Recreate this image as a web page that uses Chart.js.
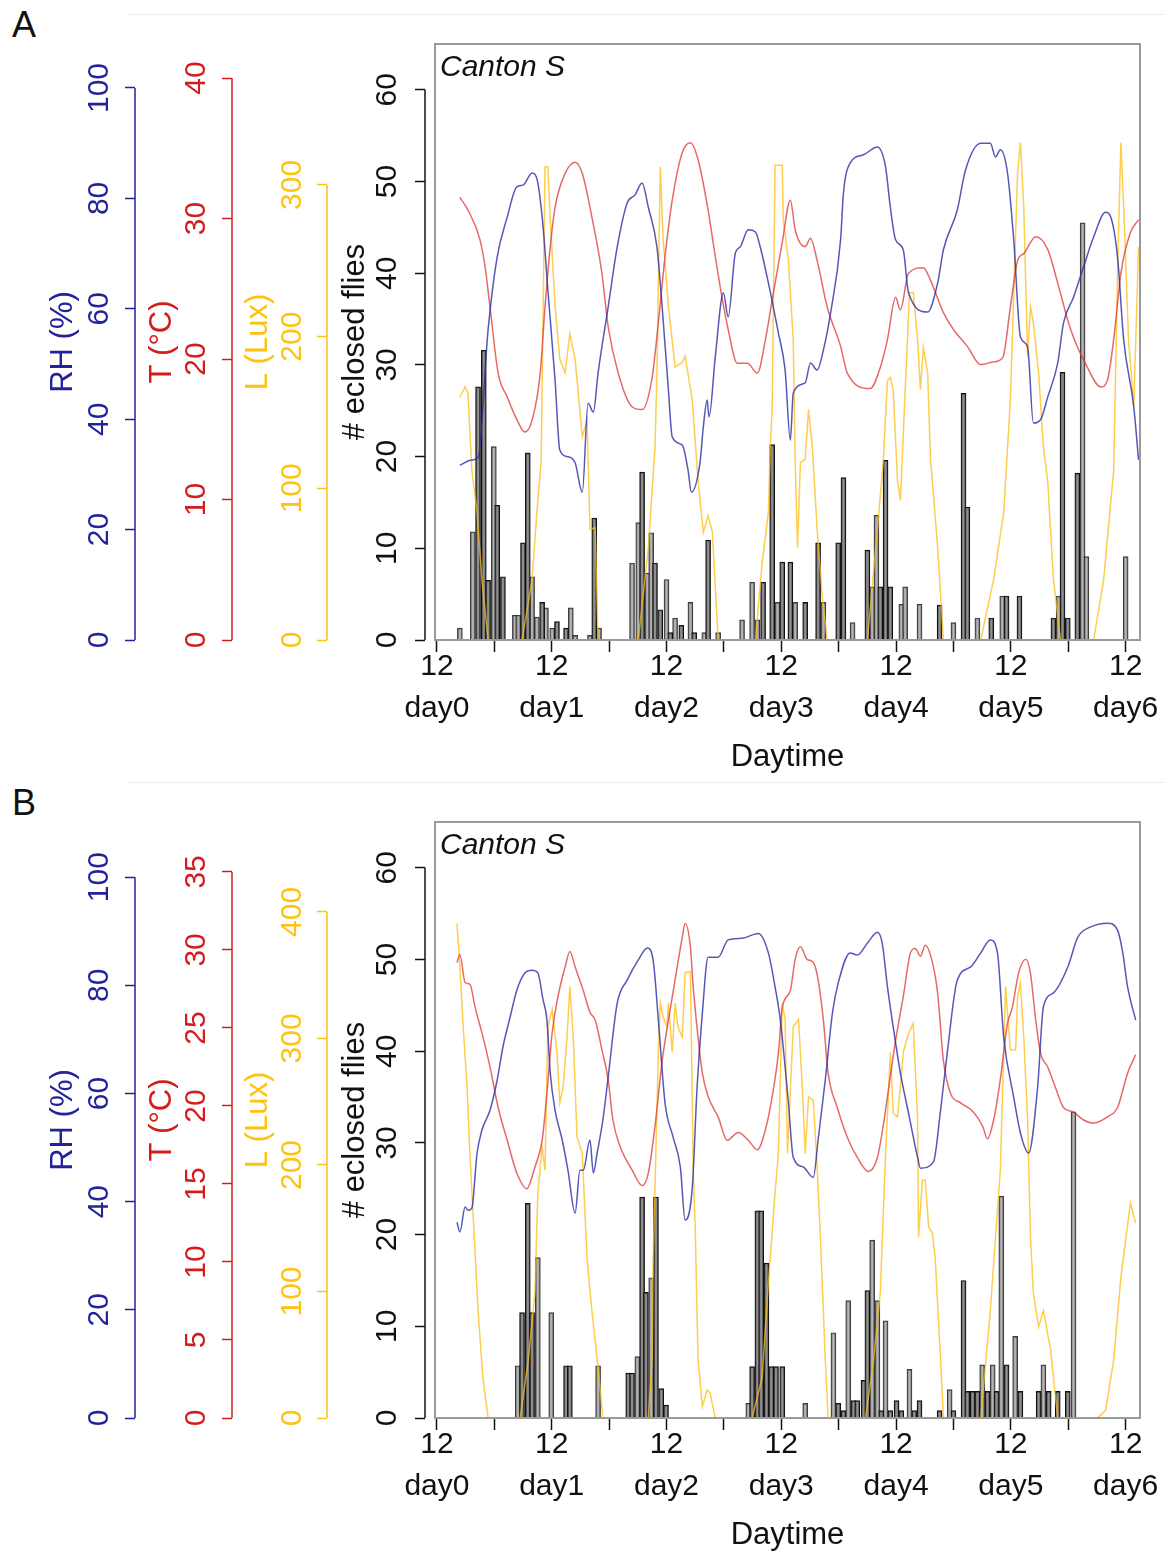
<!DOCTYPE html>
<html>
<head>
<meta charset="utf-8">
<script src="https://cdn.jsdelivr.net/npm/chart.js@4.4.1/dist/chart.umd.min.js"></script>
<style>
  body { margin: 0; background: #fff; width: 1165px; height: 1553px; position: relative; overflow: hidden;
         font-family: "Liberation Sans", Arial, sans-serif; }
  canvas { position: absolute; left: 0; }
  .tag { position: absolute; left: 12px; font-size: 36px; line-height: 36px; color: #111; }
  .rule { position: absolute; left: 128px; width: 1037px; height: 1px; background: #eeeeee; }
</style>
</head>
<body>
<div class="rule" style="top:14px"></div>
<div class="rule" style="top:782px"></div>
<div class="tag" style="top:7px">A</div>
<div class="tag" style="top:785px">B</div>
<canvas id="panelA" width="1165" height="778" style="top:0"></canvas>
<canvas id="panelB" width="1165" height="778" style="top:778px"></canvas>
<script>
// x is hours after 12:00 on day0
const xTickValues = [0, 12, 24, 36, 48, 60, 72, 84, 96, 108, 120, 132, 144];
const dayLabels = ['day0', 'day1', 'day2', 'day3', 'day4', 'day5', 'day6'];
const countTicks = [0, 10, 20, 30, 40, 50, 60];
const rhTicks = [0, 20, 40, 60, 80, 100];
const tTicksA = [0, 10, 20, 30, 40];
const tTicksB = [0, 5, 10, 15, 20, 25, 30, 35];
const lTicksA = [0, 100, 200, 300];
const lTicksB = [0, 100, 200, 300, 400];

// ---- panel A ----
const rhHoursA = [4.8,7.3,8.6,10.7,12.6,14.7,16.7,18.0,19.9,21.1,
  22.2,23.2,24.7,25.7,27.4,28.9,30.4,31.6,32.7,33.7,
  35.8,37.7,39.8,41.4,42.9,44.2,46.0,47.1,48.4,49.2,
  51.3,52.5,53.2,55.0,55.7,56.5,56.9,58.2,59.9,60.9,
  62.4,63.4,65.1,66.6,67.6,69.3,71.4,72.8,73.9,74.5,
  77.0,78.1,79.5,80.8,82.3,84.4,85.0,86.4,89.2,92.1,
  93.8,94.8,95.9,97.5,98.6,102.6,104.7,105.9,108.8,110.5,
  113.7,115.7,116.8,117.8,119.3,120.6,122.0,123.5,124.7,126.2,
  127.7,129.8,131.0,133.1,135.2,137.3,139.8,140.9,142.3,143.6,145.7,146.7];
const rhA = [31.7,32.6,33.0,56.2,69.4,76.6,82.1,82.4,84.6,82.8,
  74.8,63.4,47.1,34.4,33.2,32.1,26.8,42.9,41.3,48.4,
  60.3,71.2,79.2,80.6,82.8,78.4,71.2,60.3,45.3,36.8,
  35.3,30.8,26.8,32.1,38.6,43.5,40.4,51.3,62.9,58.5,
  70.1,71.2,74.3,73.9,71.2,64.7,55.6,48.9,36.2,44.7,
  46.6,50.2,48.9,52.5,59.2,72.5,81.0,86.4,87.9,89.3,
  85.7,78.4,72.5,70.7,62.9,59.4,64.7,70.7,77.9,85.1,
  90.0,90.0,87.5,88.8,84.6,72.5,54.9,53.1,39.3,39.9,
  44.0,50.2,57.4,62.1,67.6,73.0,77.5,76.6,69.4,54.3,42.2,32.6];

const tHoursA = [4.8,6.5,9.0,10.1,11.1,12.8,14.7,16.7,18.4,20.1,
  21.6,22.6,23.7,24.7,26.8,28.9,30.4,32.4,34.5,35.8,
  37.9,40.8,42.9,45.0,46.3,47.7,49.2,51.3,53.0,54.6,
  56.7,58.2,59.7,60.9,62.8,64.9,67.0,68.7,70.1,72.2,
  73.9,74.9,77.0,78.1,79.5,81.6,84.4,85.8,90.6,92.7,
  94.2,95.9,96.9,98.6,101.7,103.2,105.9,108.0,110.9,113.7,
  116.4,118.3,119.9,121.4,122.7,125.2,127.7,129.8,132.5,136.0,
  138.8,140.2,141.5,143.0,145.0,146.7];
const tA = [31.5,30.6,28.5,26.5,23.7,19.0,17.3,15.7,14.8,15.9,
  19.0,23.7,28.0,30.8,33.2,34.0,33.2,30.1,26.1,22.3,
  19.0,16.6,16.4,18.7,22.6,27.3,31.3,34.7,35.4,34.2,
  30.6,27.3,24.2,22.1,19.7,19.7,19.0,21.4,24.2,28.3,
  31.3,29.2,28.0,28.6,27.0,23.7,20.9,19.0,17.9,19.4,
  21.4,24.4,23.5,26.1,26.5,25.6,23.3,22.1,20.9,19.6,
  19.8,20.1,23.7,27.0,27.5,28.7,27.8,25.4,22.1,19.4,
  18.0,18.5,21.4,26.1,29.0,29.9];

const lHoursA = [4.8,5.9,6.5,7.3,8.4,9.4,10.7,17.8,19.9,20.9,
  21.8,22.6,23.2,23.7,24.7,25.7,26.8,27.8,28.9,30.4,
  31.4,32.0,33.1,33.7,42.1,44.2,45.6,46.0,46.7,47.3,
  48.4,49.8,51.3,51.9,53.4,54.6,55.7,56.7,57.6,58.8,
  66.6,68.0,69.3,69.7,70.1,70.7,72.2,72.4,73.5,74.5,
  74.9,75.4,76.0,77.0,77.7,78.5,79.5,80.6,81.6,90.0,
  92.1,93.3,94.2,94.8,95.4,96.3,96.9,98.0,98.8,99.6,
  100.5,101.1,101.7,102.6,103.2,104.7,105.9,113.7,116.4,118.5,
  119.9,121.4,122.0,122.7,123.5,124.1,124.7,125.8,126.8,127.7,
  128.9,130.4,137.3,139.4,141.5,142.3,143.0,143.6,144.6,145.7,
  146.7];
const lA = [160,167,163,112,84,40,0,0,40,84,
  119,312,312,277,220,185,176,202,185,134,
  145,73,74,0,0,61,127,176,312,264,
  220,180,183,187,158,105,71,82,71,0,
  0,51,84,127,154,313,313,277,250,198,
  119,61,117,119,152,127,73,28,0,0,
  73,117,171,173,165,105,92,171,229,229,
  198,165,193,176,119,61,0,0,40,84,
  158,308,328,285,187,220,209,176,127,105,
  40,0,0,40,112,242,328,285,198,154,
  259];

const darkHoursA = [8.6,9.8,10.7,12.6,13.8,18.0,19.0,22.0,25.1,27.0,
  32.9,42.9,45.6,46.7,48.8,51.1,53.8,56.7,68.2,70.1,
  72.2,73.9,77.0,79.7,83.9,85.0,90.0,92.7,93.8,94.8,
  105.1,110.1,110.9,115.9,119.1,121.8,128.9,130.8,131.9,133.9];
const darkCountsA = [27.6,31.6,6.5,14.7,6.9,10.6,20.4,4.1,2.0,1.3,
  13.3,18.3,8.4,3.3,0.8,1.6,0.8,10.9,6.3,21.3,
  8.5,8.5,4.1,10.6,10.6,17.7,9.8,5.8,19.6,5.8,
  3.8,26.9,14.5,2.4,4.8,4.8,2.4,29.2,2.4,18.2];
const lightHoursA = [4.8,7.5,11.9,16.3,17.0,19.9,20.9,22.8,24.1,28.0,
  28.9,32.0,33.9,40.8,42.1,44.0,44.8,48.0,49.8,53.0,
  55.9,58.8,63.8,65.9,67.0,71.2,74.9,80.8,86.9,91.0,
  91.9,97.1,97.9,100.9,108.0,113.0,118.2,130.0,135.0,135.8,144.0];
const lightCountsA = [1.3,11.8,21.1,2.7,2.7,6.9,2.5,3.5,1.3,3.5,
  0.5,0.5,1.3,8.4,12.8,7.3,11.7,6.6,2.4,4.1,
  0.8,0.8,2.2,6.3,2.2,4.1,4.1,4.1,1.9,5.8,
  13.6,3.9,5.8,3.9,1.9,2.4,4.8,4.8,45.5,9.1,9.1];

// ---- panel B ----
const rhHoursB = [4.2,4.8,5.9,6.5,7.3,8.4,9.4,11.1,12.6,13.8,
  15.3,16.7,18.4,19.9,21.1,22.2,23.0,23.7,24.7,26.2,
  27.4,28.9,29.9,30.6,32.0,32.7,33.5,34.7,35.8,37.7,
  39.8,42.1,44.0,45.2,46.3,47.7,49.4,50.9,51.9,53.4,
  54.4,55.5,56.7,58.8,60.9,63.8,67.2,69.3,70.7,71.8,
  73.5,74.5,76.6,78.7,79.7,81.2,82.7,83.9,86.4,87.9,
  90.0,92.1,93.1,94.2,95.4,96.9,98.6,100.5,101.1,103.8,
  105.3,106.7,108.8,111.6,113.7,115.7,117.2,118.5,120.6,122.0,
  123.7,125.6,126.8,128.9,131.9,134.0,136.7,140.2,142.3,143.4,
  144.4,146.1];
const rhB = [36.2,34.4,39.0,38.4,38.8,49.0,53.2,56.9,62.5,68.6,
  74.1,79.1,82.3,82.8,82.3,77.3,73.6,63.8,56.9,51.4,
  45.8,37.9,45.8,45.8,51.4,45.3,49.0,55.1,63.0,76.7,
  81.0,84.7,86.9,84.7,73.6,58.2,51.9,46.4,36.6,42.7,
  61.2,74.9,85.2,85.2,88.4,88.7,89.6,86.0,79.7,73.6,
  58.2,48.2,46.4,44.5,51.4,62.5,74.9,80.4,86.0,85.6,
  87.8,89.8,87.8,79.7,72.3,63.8,56.4,48.2,46.2,47.3,
  56.9,67.5,81.0,83.4,86.0,88.4,86.0,70.4,59.3,52.7,
  49.0,61.2,76.0,78.6,83.4,88.9,90.8,91.5,90.2,86.0,
  79.7,73.6];

const tHoursB = [4.2,4.8,5.9,6.9,8.0,9.4,11.1,12.8,14.7,16.7,
  18.8,20.5,22.0,23.0,24.1,25.3,26.8,27.8,28.9,30.6,
  32.0,33.1,34.5,35.8,36.8,38.3,40.8,42.9,44.2,45.6,
  47.1,48.4,49.8,51.3,51.9,53.0,53.6,54.6,55.5,56.7,
  58.8,60.7,63.0,65.1,67.0,68.7,70.1,71.4,72.2,73.9,
  74.9,76.0,77.4,78.7,79.7,80.8,81.8,83.7,85.8,87.9,
  90.2,92.1,93.3,94.8,95.9,97.5,99.0,100.0,101.1,102.1,
  103.6,104.7,105.9,107.4,109.5,112.2,114.1,115.1,116.4,117.8,
  119.3,120.3,121.6,123.1,124.1,125.2,126.2,127.7,129.3,131.0,
  133.1,135.2,137.3,140.2,142.3,144.4,146.1];
const tB = [29.2,29.7,27.9,27.8,26.3,24.7,22.5,19.9,17.8,15.7,
  14.7,16.1,17.8,20.8,24.7,27.0,28.9,29.9,28.9,27.4,
  26.0,25.5,23.6,21.7,19.1,17.4,15.9,14.9,15.7,18.7,
  22.9,25.5,28.1,30.8,31.7,30.2,27.6,24.4,22.1,20.6,
  19.3,17.8,18.3,17.8,17.2,18.5,20.6,23.4,26.3,27.4,
  29.4,30.2,29.4,29.2,28.1,25.5,22.1,19.9,18.0,16.7,
  15.8,16.7,18.7,21.9,24.2,27.0,29.8,30.1,29.6,30.3,
  29.2,27.2,22.9,20.8,20.2,19.6,18.7,17.9,19.1,21.7,
  25.3,26.3,28.5,29.4,28.5,25.5,23.4,22.5,21.2,19.9,
  19.6,19.1,18.9,19.3,19.9,22.1,23.3];

const lHoursB = [4.2,4.8,5.4,6.3,6.9,7.7,8.6,9.6,10.7,17.4,
  19.1,20.5,21.1,22.0,22.6,23.2,24.1,25.1,25.7,26.4,
  27.2,27.8,28.5,29.3,30.4,31.4,32.4,33.7,34.7,44.2,
  45.0,45.2,45.6,46.3,46.7,47.3,48.1,48.4,49.2,49.8,
  50.4,51.3,51.9,53.0,53.6,54.0,54.6,55.5,56.5,57.1,
  58.2,65.9,68.0,69.3,70.7,71.4,72.2,72.8,73.3,74.5,
  75.6,76.4,77.0,77.7,78.7,79.5,80.2,81.2,81.8,89.6,
  91.3,92.7,93.8,94.8,95.4,96.3,96.9,97.5,98.6,99.6,
  100.5,100.7,101.5,102.1,102.8,103.6,104.2,105.3,105.9,113.7,
  115.7,117.2,117.8,118.9,119.3,119.9,121.0,121.4,122.0,122.7,
  123.5,124.1,124.7,125.8,126.8,128.3,129.8,138.1,139.8,141.5,
  143.0,145.0,146.1];
const lB = [391,357,315,262,209,151,85,32,0,0,
  46,99,178,214,196,309,323,289,249,262,
  301,341,301,222,209,125,85,40,0,0,
  46,125,183,289,328,317,309,328,289,328,
  309,301,352,353,196,151,46,9,22,20,
  0,0,32,107,178,209,328,315,209,309,
  315,262,209,254,251,198,141,46,0,0,
  46,99,208,289,241,238,262,289,304,312,
  236,143,188,188,151,146,125,46,0,0,
  85,164,196,341,320,291,291,333,344,301,
  236,143,99,72,85,54,0,0,6,46,
  111,170,154];

const darkHoursB = [17.8,19.0,19.9,27.0,27.8,40.0,40.8,42.9,43.7,45.8,
  46.9,47.9,65.9,67.0,67.8,68.9,69.9,70.9,72.2,83.9,
  85.0,87.1,87.9,89.2,90.0,92.9,94.8,96.1,97.1,99.8,
  100.9,105.1,108.0,110.1,110.9,112.0,113.0,115.1,117.0,119.1,
  122.0,125.8,127.9,129.8,131.9];
const darkCountsB = [11.5,23.4,11.5,5.7,5.7,4.9,4.9,24.1,13.7,24.1,
  3.2,1.4,5.6,22.6,22.6,16.9,5.6,5.6,5.6,1.6,
  0.8,1.9,1.9,4.1,13.9,0.8,0.8,1.9,0.8,0.8,
  1.9,0.8,0.8,15.0,2.9,2.9,2.9,2.9,2.9,5.8,
  2.9,2.9,2.9,2.9,2.9];
const lightHoursB = [16.9,21.1,23.9,33.7,41.9,44.8,65.1,77.0,82.9,86.0,
  91.0,92.1,93.8,98.8,107.2,114.0,116.2,118.0,120.9,126.8,133.1];
const lightCountsB = [5.7,17.5,11.5,5.7,6.7,15.3,1.6,1.6,9.3,12.8,
  19.4,12.8,10.6,5.3,3.1,5.8,5.8,24.2,8.9,5.8,33.4];

const fontFamily = '"Liberation Sans", Arial, sans-serif';
const colRH = '#22229a', colT = '#d41c1c', colL = '#ffc20e';

function pts(xs, ys) {
  return xs.map((x, i) => ({ x: x, y: ys[i] }));
}

// axis line only over the tick range, like base R axis()
const framePlugin = {
  id: 'frame',
  afterDraw(chart, args, opts) {
    const ctx = chart.ctx, a = chart.chartArea;
    ctx.save();
    ctx.lineWidth = 1.5;
    [['yRH', colRH, 0], ['yT', colT, 0], ['yL', colL, 0], ['y', '#111', 10]].forEach(([id, c, inset]) => {
      const s = chart.scales[id];
      const t = s.ticks;
      const x = s.right - inset;
      ctx.strokeStyle = c;
      ctx.beginPath();
      ctx.moveTo(x, s.getPixelForValue(t[0].value));
      ctx.lineTo(x, s.getPixelForValue(t[t.length - 1].value));
      ctx.stroke();
    });
    ctx.strokeStyle = '#9a9a9a';
    ctx.lineWidth = 2;
    ctx.strokeRect(a.left, a.top, a.right - a.left, a.bottom - a.top);
    ctx.fillStyle = '#111';
    ctx.font = 'italic 30px ' + fontFamily;
    ctx.textBaseline = 'middle';
    ctx.fillText(opts.label, a.left + 5, a.top + 24);
    ctx.restore();
  }
};

function leftAxis(color, ticks, max, width, pad, title, titlePad, weight) {
  return {
    type: 'linear', position: 'left', min: 0, max: max, weight: weight,
    afterBuildTicks: s => { s.ticks = ticks.map(v => ({ value: v })); },
    afterFit: s => { s.width = width; },
    border: { display: false },
    grid: { drawOnChartArea: false, color: color, tickColor: color, tickLength: 10, tickWidth: 1.5 },
    ticks: { color: color, font: { family: fontFamily, size: 30 }, minRotation: 90, maxRotation: 90,
             crossAlign: 'center', padding: pad, autoSkip: false },
    title: { display: true, text: title, color: color, font: { family: fontFamily, size: 31 },
             padding: { top: titlePad, bottom: 0 } }
  };
}

function makePanel(id, p) {
  new Chart(document.getElementById(id), {
    type: 'line',
    data: {
      datasets: [
        { type: 'line', data: pts(p.rhHours, p.rh), yAxisID: 'yRH', borderColor: 'rgba(45,45,165,0.8)',
          borderWidth: 1.5, pointRadius: 0, cubicInterpolationMode: 'monotone', fill: false, order: 0 },
        { type: 'line', data: pts(p.tHours, p.t), yAxisID: 'yT', borderColor: 'rgba(222,55,55,0.75)',
          borderWidth: 1.5, pointRadius: 0, cubicInterpolationMode: 'monotone', fill: false, order: 0 },
        { type: 'line', data: pts(p.lHours, p.l), yAxisID: 'yL', borderColor: 'rgba(255,190,20,0.75)',
          borderWidth: 1.5, pointRadius: 0, tension: 0, fill: false, order: 0 },
        { type: 'bar', data: pts(p.lightHours, p.lightCounts), yAxisID: 'y', backgroundColor: 'rgba(155,155,155,0.75)',
          borderColor: 'rgba(40,40,40,0.9)', borderWidth: 1.2, barThickness: 5, grouped: false, order: 2 },
        { type: 'bar', data: pts(p.darkHours, p.darkCounts), yAxisID: 'y', backgroundColor: 'rgba(115,115,115,0.8)',
          borderColor: '#111', borderWidth: 1.2, barThickness: 5, grouped: false, order: 1 }
      ]
    },
    options: {
      responsive: false,
      animation: false,
      devicePixelRatio: 1,
      layout: { padding: { left: 20, top: 44, right: 25, bottom: 0 } },
      plugins: { legend: { display: false }, tooltip: { enabled: false }, frame: { label: 'Canton S' } },
      scales: {
        x: {
          type: 'linear', min: -0.4, max: 147, offset: false,
          afterBuildTicks: s => { s.ticks = xTickValues.map(v => ({ value: v })); },
          afterFit: s => { s.height = 138; },
          border: { display: false },
          grid: { drawOnChartArea: false, offset: false, color: '#111', tickColor: '#111', tickLength: 12, tickWidth: 1.5 },
          ticks: { autoSkip: false, maxRotation: 0, minRotation: 0, color: '#111', padding: -6,
                   font: { family: fontFamily, size: 30, lineHeight: 1.4 },
                   callback: (v, i) => (i % 2 === 0 ? ['12', dayLabels[i / 2]] : '') },
          title: { display: true, text: 'Daytime', color: '#111', font: { family: fontFamily, size: 31 },
                   padding: { top: 0, bottom: 2.4 } }
        },
        yRH: leftAxis(colRH, rhTicks, p.rhMax, 115, 0, 'RH (%)', 24.4, 4),
        yT: leftAxis(colT, p.tTicks, p.tMax, 97, 8.3, 'T (°C)', 8.4, 3),
        yL: leftAxis(colL, p.lTicks, p.lMax, 95, -1, 'L (Lux)', 7.4, 2),
        y: {
          type: 'linear', position: 'left', min: 0, max: 65, weight: 1,
          afterBuildTicks: s => { s.ticks = countTicks.map(v => ({ value: v })); },
          afterFit: s => { s.width = 108; },
          border: { display: false },
          grid: { drawOnChartArea: false, color: '#111', tickColor: '#111', tickLength: 20, tickWidth: 1.5,
                  tickBorderDash: [10, 40] },
          ticks: { color: '#111', font: { family: fontFamily, size: 30 }, minRotation: 90, maxRotation: 90,
                   crossAlign: 'center', padding: 10.3, autoSkip: false },
          title: { display: true, text: '# eclosed flies', color: '#111', font: { family: fontFamily, size: 31 },
                   padding: { top: 9.4, bottom: 0 } }
        }
      }
    },
    plugins: [framePlugin]
  });
}

makePanel('panelA', {
  rhHours: rhHoursA, rh: rhA, tHours: tHoursA, t: tA, lHours: lHoursA, l: lA,
  darkHours: darkHoursA, darkCounts: darkCountsA, lightHours: lightHoursA, lightCounts: lightCountsA,
  rhMax: 107.97, tMax: 42.42, lMax: 392.9, tTicks: tTicksA, lTicks: lTicksA
});
makePanel('panelB', {
  rhHours: rhHoursB, rh: rhB, tHours: tHoursB, t: tB, lHours: lHoursB, l: lB,
  darkHours: darkHoursB, darkCounts: darkCountsB, lightHours: lightHoursB, lightCounts: lightCountsB,
  rhMax: 110.2, tMax: 38.2, lMax: 471.1, tTicks: tTicksB, lTicks: lTicksB
});
</script>
</body>
</html>
